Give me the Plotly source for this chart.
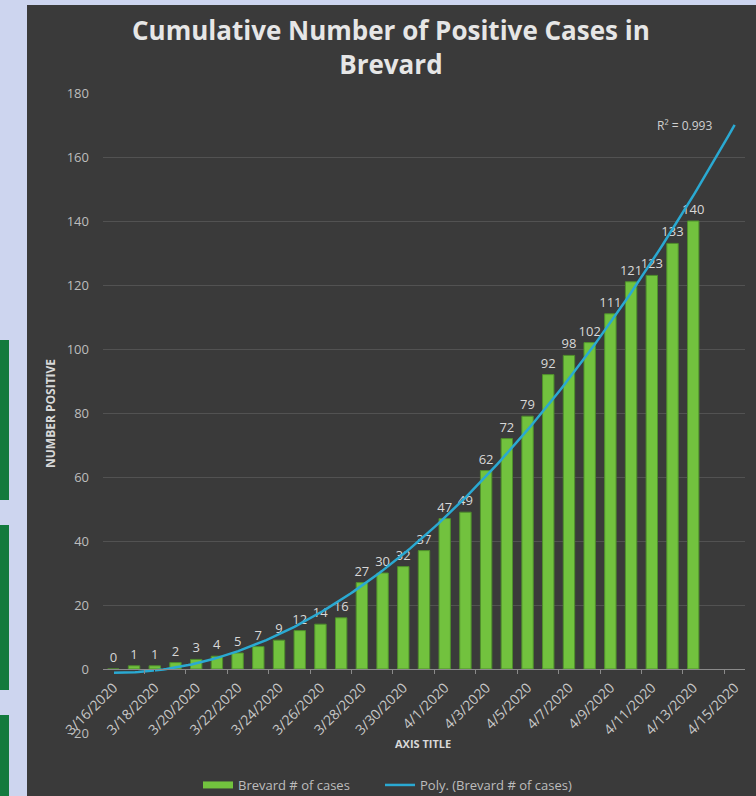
import numpy as np
import plotly.graph_objects as go

# ---- data ----
dates = ["3/16/2020", "3/17/2020", "3/18/2020", "3/19/2020", "3/20/2020", "3/21/2020",
         "3/22/2020", "3/23/2020", "3/24/2020", "3/25/2020", "3/26/2020", "3/27/2020",
         "3/28/2020", "3/29/2020", "3/30/2020", "3/31/2020", "4/1/2020", "4/2/2020",
         "4/3/2020", "4/4/2020", "4/5/2020", "4/6/2020", "4/7/2020", "4/8/2020",
         "4/9/2020", "4/10/2020", "4/11/2020", "4/12/2020", "4/13/2020", "4/14/2020",
         "4/15/2020"]
cases = [0, 1, 1, 2, 3, 4, 5, 7, 9, 12, 14, 16, 27, 30, 32, 37, 47, 49, 62, 72,
         79, 92, 98, 102, 111, 121, 123, 133, 140]
y_ticks = [-20, 0, 20, 40, 60, 80, 100, 120, 140, 160, 180]
r2_label = "R² = 0.993"
title_text = "Cumulative Number of Positive Cases in<br>Brevard"

x_bar = np.arange(len(cases))
x_all = np.arange(len(dates))
minor_ticks = [k + 0.5 for k in range(1, len(dates), 2)]

# polynomial (order 2) trendline, fitted to the bar data, extended to 4/15
coef = np.polyfit(x_bar, cases, 2)
x_fit = np.linspace(0, len(dates) - 1, 200)
y_fit = np.polyval(coef, x_fit)

BG = "#3a3a3a"
GREEN = "#72c23e"
BLUE = "#2aa9d2"
FONT = "Open Sans"
LAV = "#cdd5ef"
DKG = "#137a3e"

# plot area in pixels: left 103, right 745, top 93, bottom 733
PL, PR, PT, PB = 103, 745, 93, 733
def px_x(p):
    return (p - PL) / (PR - PL)
def px_y(p):
    return (PB - p) / (PB - PT)

fig = go.Figure()

fig.add_trace(go.Bar(
    x=x_bar, y=cases, name="Brevard # of cases", showlegend=False,
    marker=dict(color=GREEN, line=dict(color="#4f8f2c", width=1)),
    text=[str(v) for v in cases], textposition="outside", constraintext="none",
    textfont=dict(color="#d8d8d8", size=13, family=FONT),
    cliponaxis=False,
))
# legend entry for bars (flat wide swatch, like the original)
fig.add_trace(go.Scatter(
    x=[None], y=[None], mode="lines", name="Brevard # of cases",
    line=dict(color=GREEN, width=7), showlegend=True, legend="legend",
))
fig.add_trace(go.Scatter(
    x=x_fit, y=y_fit, mode="lines", name="Poly. (Brevard # of cases)",
    line=dict(color=BLUE, width=2.5), legend="legend2",
))

annotations = [
    dict(x=27.6, y=170, text=r2_label, showarrow=False,
         font=dict(color="#d0d0d0", size=12, family=FONT)),
    dict(xref="paper", yref="paper", x=px_x(391), y=px_y(47), text="<b>%s</b>" % title_text,
         showarrow=False, xanchor="center", yanchor="middle",
         font=dict(family=FONT, size=26, color="#e6e6e6")),
    dict(xref="paper", yref="paper", x=px_x(423), y=px_y(743), text="<b>AXIS TITLE</b>",
         showarrow=False, xanchor="center", yanchor="middle",
         font=dict(family=FONT, size=11, color="#d8d8d8")),
    dict(xref="paper", yref="paper", x=px_x(50), y=px_y(414), text="<b>NUMBER POSITIVE</b>",
         showarrow=False, xanchor="center", yanchor="middle", textangle=-90,
         font=dict(family=FONT, size=12, color="#d8d8d8")),
]

shapes = [
    dict(type="rect", xref="paper", yref="paper", x0=px_x(-5), x1=px_x(27), y0=px_y(800), y1=px_y(-5),
         fillcolor=LAV, line=dict(width=0), layer="below"),
    dict(type="rect", xref="paper", yref="paper", x0=px_x(-5), x1=px_x(760), y0=px_y(5), y1=px_y(-5),
         fillcolor=LAV, line=dict(width=0), layer="below"),
    dict(type="rect", xref="paper", yref="paper", x0=px_x(-5), x1=px_x(9), y0=px_y(500), y1=px_y(340),
         fillcolor=DKG, line=dict(width=0), layer="below"),
    dict(type="rect", xref="paper", yref="paper", x0=px_x(-5), x1=px_x(9), y0=px_y(690), y1=px_y(525),
         fillcolor=DKG, line=dict(width=0), layer="below"),
    dict(type="rect", xref="paper", yref="paper", x0=px_x(-5), x1=px_x(9), y0=px_y(800), y1=px_y(715),
         fillcolor=DKG, line=dict(width=0), layer="below"),
]

legend_style = dict(orientation="h", yanchor="middle", xanchor="left",
                    font=dict(color="#bdbdbd", size=13, family=FONT),
                    bgcolor="rgba(0,0,0,0)", itemwidth=30)

fig.update_layout(
    width=756, height=796,
    margin=dict(l=PL, r=756 - PR, t=PT, b=796 - PB, autoexpand=False),
    paper_bgcolor=BG, plot_bgcolor=BG,
    bargap=0.45,
    shapes=shapes,
    annotations=annotations,
    showlegend=True,
    legend=dict(x=px_x(198), y=px_y(785), **legend_style),
    legend2=dict(x=px_x(380), y=px_y(785), **legend_style),
    font=dict(family=FONT, color="#c8c8c8"),
)

fig.update_xaxes(
    range=[-0.5, len(dates) - 0.5],
    tickmode="array", tickvals=x_all[::2], ticktext=dates[::2],
    tickangle=-45, tickfont=dict(size=14, color="#c8c8c8"),
    showgrid=False, zeroline=False,
    showline=True, linecolor="#8a8a8a", linewidth=1,
    ticks="outside", ticklen=4, tickcolor=BG,
    minor=dict(tickmode="array", tickvals=minor_ticks,
               ticks="outside", ticklen=4, tickcolor="#8a8a8a"),
    anchor="free", position=px_y(669), automargin=False,
)
fig.update_yaxes(
    range=[-20, 180], tickmode="array", tickvals=y_ticks,
    tickfont=dict(size=13, color="#bdbdbd"),
    showgrid=True, gridcolor="#525252", gridwidth=1, zeroline=False,
    ticklabelstandoff=13, automargin=False,
)

css = ("var h=document.documentElement,b=document.body;"
       "h.style.margin='0';b.style.margin='0';b.style.padding='0';"
       "h.style.overflow='hidden';b.style.overflow='hidden';"
       "h.style.height='796px';b.style.height='796px';"
       "b.style.background='%s';" % LAV)
fig.write_html("out.html", config={"displayModeBar": False}, post_script=css)
